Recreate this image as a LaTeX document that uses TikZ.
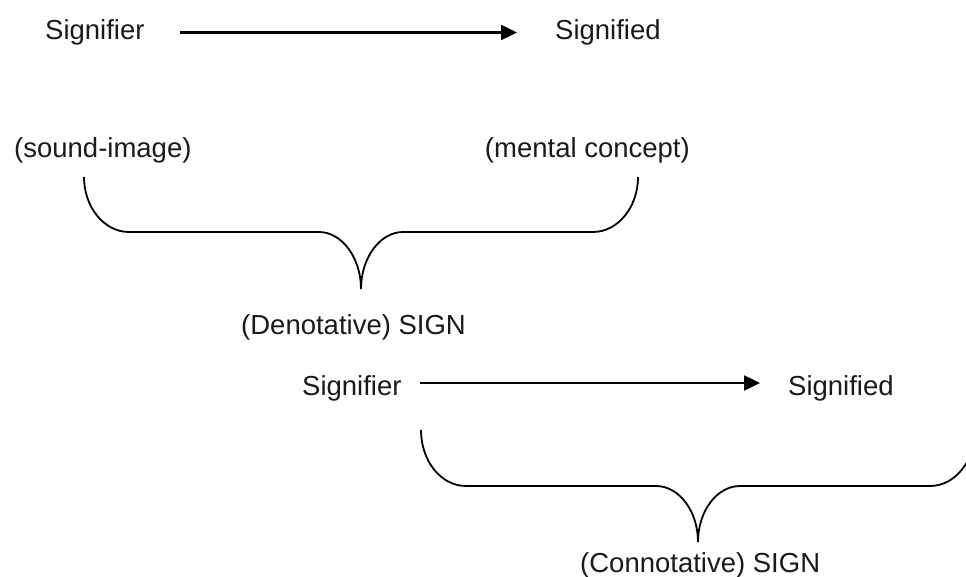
\documentclass[tikz,border=0pt]{standalone}
\usepackage{fontspec}
\setmainfont{Liberation Sans}
\usetikzlibrary{arrows.meta}
\definecolor{ink}{HTML}{1A1A1A}
\begin{document}
\begin{tikzpicture}[x=1pt,y=-1pt,
  lbl/.style={inner sep=0pt,anchor=base west,text=ink,font=\fontsize{27.5}{32}\selectfont},
  arr/.style={line width=2.4pt,-{Triangle[length=16pt,width=15pt]}},
  brace/.style={line width=1.8pt}]
\useasboundingbox (0,0) rectangle (966,577);
\node[lbl] (sr1) at (45,40) {Signifier};
\node[lbl] (sd1) at (555,40) {Signified};
\coordinate (a1s) at (180,32.5);
\coordinate (a1e) at (517,32.5);
\draw[arr] (a1s) -- (a1e);
\node[lbl] (si) at (14,158) {(sound-image)};
\node[lbl,anchor=base east] (mc) at (690,158) {(mental concept)};
\coordinate (b1l) at (84,177);
\coordinate (b1t) at (361,289);
\coordinate (b1r) at (638,177);
\draw[brace] (b1l) .. controls (84,207) and (104,232) .. (129,232) -- (319,232)
  .. controls (342,232) and (361,258) .. (b1t)
  .. controls (361,258) and (380,232) .. (403,232) -- (593,232)
  .. controls (618,232) and (638,207) .. (b1r);
\node[lbl] (den) at (241,334) {(Denotative) SIGN};
\node[lbl] (sr2) at (302,395) {Signifier};
\node[lbl] (sd2) at (788,395) {Signified};
\coordinate (a2s) at (420,383);
\coordinate (a2e) at (760,383);
\draw[arr] (a2s) -- (a2e);
\coordinate (b2l) at (421,430);
\coordinate (b2t) at (698,542);
\coordinate (b2r) at (975,430);
\draw[brace] (b2l) .. controls (421,461) and (441,486) .. (466,486) -- (656,486)
  .. controls (679,486) and (698,511) .. (b2t)
  .. controls (698,511) and (717,486) .. (740,486) -- (930,486)
  .. controls (955,486) and (975,461) .. (b2r);
\node[lbl] (con) at (580,572) {(Connotative) SIGN};
\end{tikzpicture}
\end{document}
